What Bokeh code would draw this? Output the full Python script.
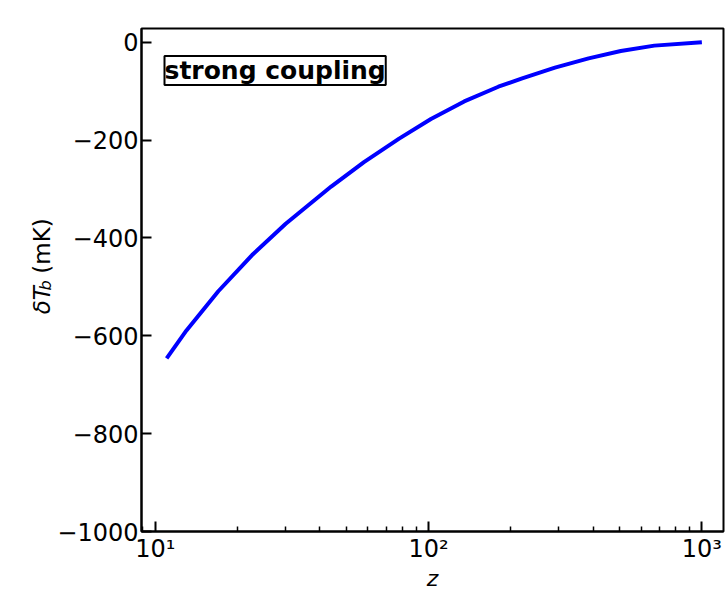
from math import pi

from bokeh.core.properties import value
from bokeh.embed import file_html
from bokeh.layouts import row
from bokeh.models import CustomJSTickFormatter, FixedTicker, Label, Range1d
from bokeh.plotting import figure
from bokeh.resources import INLINE

# 21-cm brightness temperature in the strong-coupling regime
redshift = [11, 13, 17, 22.6, 30, 44, 58, 78, 102, 135, 180, 220, 290, 385, 505, 670, 1000]
delta_tb = [-646, -589, -509, -435, -371, -295, -245, -197, -157, -121, -91, -74, -52, -33, -18, -7, 0]

x_major = [10, 100, 1000]
x_minor = [9, 20, 30, 40, 50, 60, 70, 80, 90, 200, 300, 400, 500, 600, 700, 800, 900]
y_ticks = [0, -200, -400, -600, -800, -1000]
panel_note = "strong coupling"

FONT = "DejaVu Sans"
TITLE_W = 54

# ---- main panel -------------------------------------------------------------
p = figure(
    width=725 - TITLE_W, height=593,
    x_axis_type="log",
    x_range=Range1d(8.9, 1200), y_range=Range1d(-1000, 28),
    output_backend="svg", toolbar_location=None,
    min_border_left=139 - TITLE_W, min_border_right=2,
    min_border_top=28, min_border_bottom=60,
)
p.background_fill_color = "white"
p.border_fill_color = "white"
p.outline_line_color = "black"
p.outline_line_width = 2
p.xgrid.visible = False
p.ygrid.visible = False

p.line(redshift, delta_tb, line_width=4, line_color="#0000ff")

# x axis: decades with unicode superscripts, inward ticks
p.xaxis.ticker = FixedTicker(ticks=x_major, minor_ticks=x_minor)
p.xaxis.formatter = CustomJSTickFormatter(code="""
    const sup = {"0": "\u2070", "1": "\u00b9", "2": "\u00b2", "3": "\u00b3"};
    const e = String(Math.round(Math.log10(tick)));
    return "10" + e.split("").map(c => sup[c]).join("");
""")
p.xaxis.axis_label = "z"
p.xaxis.axis_label_text_font_style = "italic"
p.xaxis.axis_label_standoff = 0

# y axis: typographic minus, inward ticks, no minor ticks
p.yaxis.ticker = FixedTicker(ticks=y_ticks)
p.yaxis.formatter = CustomJSTickFormatter(code="""
    return tick < 0 ? "\u2212" + Math.abs(tick) : String(tick);
""")
p.yaxis.minor_tick_line_color = None

for ax in (p.xaxis[0], p.yaxis[0]):
    ax.axis_line_color = "black"
    ax.axis_line_width = 2
    ax.major_tick_in = 10
    ax.major_tick_out = 0
    ax.minor_tick_in = 5
    ax.minor_tick_out = 0
    ax.major_tick_line_width = 2
    ax.minor_tick_line_width = 1.5
    ax.major_tick_line_color = "black"
    ax.major_label_text_font = FONT
    ax.major_label_text_font_size = "24px"
    ax.major_label_text_color = "black"
    ax.major_label_standoff = 3
    ax.axis_label_text_font = FONT
    ax.axis_label_text_font_size = "22px"
    ax.axis_label_text_color = "black"

# boxed panel annotation
p.add_layout(Label(
    x=23, y=461, x_units="screen", y_units="screen",
    text=panel_note, text_font=FONT, text_font_size="25px",
    text_font_style="bold", text_color="black",
    text_align="left", text_baseline="middle",
    border_line_color="black", border_line_width=2,
    background_fill_color="white", padding=0,
))

# ---- y axis title strip: delta T_b (mK), read bottom to top -----------------
t = figure(
    width=TITLE_W, height=593,
    x_range=Range1d(0, TITLE_W), y_range=Range1d(593, 0),
    output_backend="svg", toolbar_location=None,
    x_axis_location=None, y_axis_location=None,
    min_border=0,
)
t.outline_line_color = None
t.xgrid.visible = False
t.ygrid.visible = False
t.background_fill_color = "white"
t.border_fill_color = "white"

title_style = dict(angle=pi / 2, text_font=value(FONT), text_color="black",
                   text_align="left", text_baseline="alphabetic")
t.text(x=[41], y=[337], text=["δT"], text_font_size=value("23px"),
       text_font_style="italic", **title_style)
t.text(x=[45], y=[309], text=["b"], text_font_size=value("16px"),
       text_font_style="italic", **title_style)
t.text(x=[41], y=[289], text=["(mK)"], text_font_size=value("23px"),
       **title_style)

layout = row(t, p, spacing=0)
open("out.html", "w").write(file_html(layout, INLINE))
